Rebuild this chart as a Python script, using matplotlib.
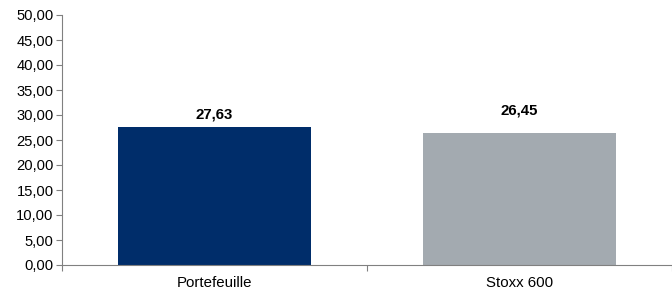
import matplotlib
matplotlib.use("Agg")
import matplotlib.pyplot as plt
from matplotlib.ticker import FuncFormatter

categories = ["Portefeuille", "Stoxx 600"]
values = [27.63, 26.45]
labels = ["27,63", "26,45"]
colors = ["#002D6A", "#A3AAB0"]

plt.rcParams['font.family'] = ['Liberation Sans', 'DejaVu Sans']
fig = plt.figure(figsize=(6.72, 2.95), dpi=100)
ax = fig.add_axes([62/672, 30/295, 1 - 62/672, 250/295])

x = range(len(categories))
ax.bar(x, values, width=0.63, color=colors)
label_offsets = [4, 11]
for xi, v, lab, off in zip(x, values, labels, label_offsets):
    ax.annotate(lab, (xi, v), xytext=(0, off), textcoords='offset points',
                ha='center', va='bottom', fontsize=10.8, fontweight='bold')

ax.set_xlim(-0.5, 1.5)
ax.set_ylim(0, 50)
ax.set_yticks(range(0, 51, 5))
ax.yaxis.set_major_formatter(FuncFormatter(lambda v, p: f"{v:.2f}".replace('.', ',')))
ax.set_xticks([-0.5, 0.5, 1.5])
ax.set_xticklabels([])
ax.set_xticks([0, 1], minor=True)
ax.set_xticklabels(categories, minor=True)
ax.tick_params(axis='x', which='minor', length=0, labelsize=10.8, pad=8)
ax.tick_params(axis='x', which='major', length=4, color='#808080')
ax.tick_params(axis='y', length=4, color='#808080', labelsize=10.6, pad=2)
for s in ['top', 'right']:
    ax.spines[s].set_visible(False)
for s in ['left', 'bottom']:
    ax.spines[s].set_color('#808080')
ax.set_facecolor('white')
fig.savefig("out.png", dpi=100)
